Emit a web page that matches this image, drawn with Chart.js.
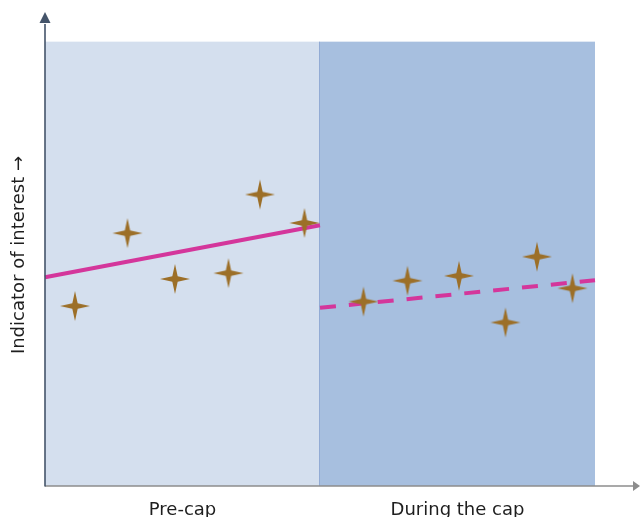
<!DOCTYPE html>
<html>
<head>
<meta charset="utf-8">
<script src="https://cdn.jsdelivr.net/npm/chart.js@4/dist/chart.umd.min.js"></script>
<style>
html,body{margin:0;padding:0;background:#fff;}
#c{display:block;}
</style>
</head>
<body>
<canvas id="c" width="640" height="517"></canvas>
<script>
// ---- data ----
const categories = ['Pre-cap', 'During the cap'];
const regionStart = [0, 5.5];
const regionEnd = [5.5, 11];
const regionTop = 10;
const preX = [0.6, 1.65, 2.6, 3.67, 4.3, 5.19];
const preY = [4.05, 5.69, 4.66, 4.79, 6.56, 5.92];
const capX = [6.37, 7.25, 8.28, 9.21, 9.84, 10.55];
const capY = [4.15, 4.62, 4.73, 3.68, 5.16, 4.45];
const preTrendX = [0, 5.5];
const preTrendY = [4.70, 5.87];
const capTrendX = [5.5, 11];
const capTrendY = [4.01, 4.63];
const yAxisTitle = 'Indicator of interest \u2192';

// ---- styles ----
const regionColors = ['#D4DFEE', '#A7BFDF'];
const starColor = '#9C6F28';
const trendColor = '#D4369B';
const FONT = '"DejaVu Sans", Verdana, sans-serif';

function makeStar(R, r, color) {
  const c = document.createElement('canvas');
  const s = R * 2 + 2;
  c.width = s; c.height = s;
  const g = c.getContext('2d');
  g.translate(s / 2, s / 2);
  g.beginPath();
  for (let i = 0; i < 8; i++) {
    const a = i * Math.PI / 4 - Math.PI / 2;
    const rr = i % 2 === 0 ? R : r;
    const px = rr * Math.cos(a), py = rr * Math.sin(a);
    if (i === 0) g.moveTo(px, py); else g.lineTo(px, py);
  }
  g.closePath();
  g.fillStyle = color;
  g.fill();
  return c;
}
const star = makeStar(15, 3.8, starColor);

const zip = (xs, ys) => xs.map((x, i) => ({x: x, y: ys[i]}));

const bgPlugin = {
  id: 'bg',
  beforeDatasetsDraw(chart) {
    const {ctx, scales: {x, y}} = chart;
    ctx.save();
    for (let i = 0; i < regionStart.length; i++) {
      const x0 = x.getPixelForValue(regionStart[i]);
      const x1 = x.getPixelForValue(regionEnd[i]);
      const yt = y.getPixelForValue(regionTop);
      const yb = y.getPixelForValue(0);
      ctx.fillStyle = regionColors[i];
      ctx.fillRect(x0, yt, x1 - x0, yb - yt);
    }
    const xd = x.getPixelForValue(regionStart[1]);
    ctx.strokeStyle = '#92ABD4';
    ctx.lineWidth = 1;
    ctx.beginPath();
    ctx.moveTo(Math.round(xd) - 0.5, y.getPixelForValue(regionTop));
    ctx.lineTo(Math.round(xd) - 0.5, y.getPixelForValue(0));
    ctx.stroke();
    ctx.restore();
  },
  afterDatasetsDraw(chart) {
    const {ctx, chartArea: ca, scales: {x, y}} = chart;
    ctx.save();
    const y0 = y.getPixelForValue(0);
    // x axis
    ctx.strokeStyle = '#8C8C8C';
    ctx.fillStyle = '#8C8C8C';
    ctx.lineWidth = 1.5;
    ctx.beginPath();
    ctx.moveTo(ca.left, y0);
    ctx.lineTo(ca.right - 5, y0);
    ctx.stroke();
    ctx.beginPath();
    ctx.moveTo(ca.right, y0);
    ctx.lineTo(ca.right - 7, y0 - 5);
    ctx.lineTo(ca.right - 7, y0 + 5);
    ctx.closePath();
    ctx.fill();
    // y axis
    ctx.strokeStyle = '#44546A';
    ctx.fillStyle = '#44546A';
    ctx.lineWidth = 1.6;
    ctx.beginPath();
    ctx.moveTo(ca.left, y0 + 0.5);
    ctx.lineTo(ca.left, ca.top + 9);
    ctx.stroke();
    ctx.beginPath();
    ctx.moveTo(ca.left, ca.top - 3);
    ctx.lineTo(ca.left - 5.5, ca.top + 8);
    ctx.lineTo(ca.left + 5.5, ca.top + 8);
    ctx.closePath();
    ctx.fill();
    // category labels
    ctx.fillStyle = '#1E1E1E';
    ctx.font = '18px ' + FONT;
    ctx.textAlign = 'center';
    ctx.textBaseline = 'alphabetic';
    for (let i = 0; i < categories.length; i++) {
      const cx = x.getPixelForValue((regionStart[i] + regionEnd[i]) / 2);
      ctx.fillText(categories[i], cx, y0 + 29);
    }
    // y title
    ctx.translate(24, 255);
    ctx.rotate(-Math.PI / 2);
    ctx.fillText(yAxisTitle, 0, 0);
    ctx.restore();
  }
};

new Chart(document.getElementById('c'), {
  type: 'scatter',
  data: {
    datasets: [
      {
        type: 'scatter',
        data: zip(preX, preY).concat(zip(capX, capY)),
        pointStyle: star,
        pointRadius: 15,
        order: 0
      },
      {
        type: 'line',
        data: zip(preTrendX, preTrendY),
        borderColor: trendColor,
        borderWidth: 4,
        pointRadius: 0,
        fill: false,
        clip: false,
        order: 1
      },
      {
        type: 'line',
        data: zip(capTrendX, capTrendY),
        borderColor: trendColor,
        borderWidth: 4,
        borderDash: [16, 13],
        pointRadius: 0,
        fill: false,
        clip: false,
        order: 1
      }
    ]
  },
  options: {
    responsive: false,
    animation: false,
    layout: {autoPadding: false, padding: {left: 45, right: 0, top: 15, bottom: 31}},
    scales: {
      x: {type: 'linear', min: 0, max: 11.9, display: false},
      y: {type: 'linear', min: 0, max: 10.6, display: false}
    },
    plugins: {legend: {display: false}, tooltip: {enabled: false}}
  },
  plugins: [bgPlugin]
});
</script>
</body>
</html>
